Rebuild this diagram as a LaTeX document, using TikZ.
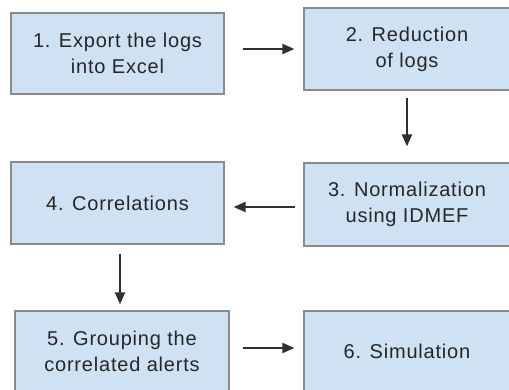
\documentclass[tikz,border=0pt]{standalone}
\usepackage{fontspec}
\setmainfont[LetterSpace=4]{Liberation Sans}
\usetikzlibrary{arrows.meta}
\definecolor{boxfill}{HTML}{CFE2F3}
\definecolor{boxline}{HTML}{8A8A8A}
\definecolor{ink}{HTML}{262626}
\definecolor{arrowink}{HTML}{303030}
\tikzset{
  stepbox/.style={draw=boxline, line width=1.3pt, fill=boxfill, text=ink,
    align=center, inner sep=0pt,
    font=\fontsize{20}{26}\selectfont},
  flow/.style={draw=arrowink, line width=2.2pt, -{Triangle[length=12pt,width=10pt]}}
}
\begin{document}
\begin{tikzpicture}[x=1pt,y=-1pt]
  \useasboundingbox (0,0) rectangle (509,390);
  \clip (0,0) rectangle (509,390);
  % process boxes, corners given as pixel positions
  \node[stepbox, minimum width=213pt, minimum height=81pt] (s1) at (117.5,53.5) {1. Export the logs\\into Excel};
  \node[stepbox, minimum width=206pt, minimum height=82pt] (s2) at (407,49) {2. Reduction\\of logs};
  \node[stepbox, minimum width=206pt, minimum height=83pt] (s3) at (407,204.5) {3. Normalization\\using IDMEF};
  \node[stepbox, minimum width=213pt, minimum height=82pt] (s4) at (117.5,203) {4. Correlations};
  \node[stepbox, minimum width=214pt, minimum height=80pt] (s5) at (122,351) {5. Grouping the\\correlated alerts};
  \node[stepbox, minimum width=206pt, minimum height=80pt] (s6) at (407,351) {6. Simulation};
  % connectors between the steps
  \draw[flow] ([xshift=18pt]s1.east |- s2.west) -- ([xshift=-9pt]s2.west);
  \draw[flow] ([yshift=-7pt]s2.south) -- ([yshift=16pt]s3.north);
  \draw[flow] ([xshift=-8pt]s3.west |- 0,207) -- ([xshift=9pt]s4.east |- 0,207);
  \draw[flow] ([yshift=-9pt]s4.south -| 120,0) -- ([yshift=6pt]s5.north -| 120,0);
  \draw[flow] ([xshift=13pt]s5.east |- 0,348) -- ([xshift=-9pt]s6.west |- 0,348);
\end{tikzpicture}
\end{document}
